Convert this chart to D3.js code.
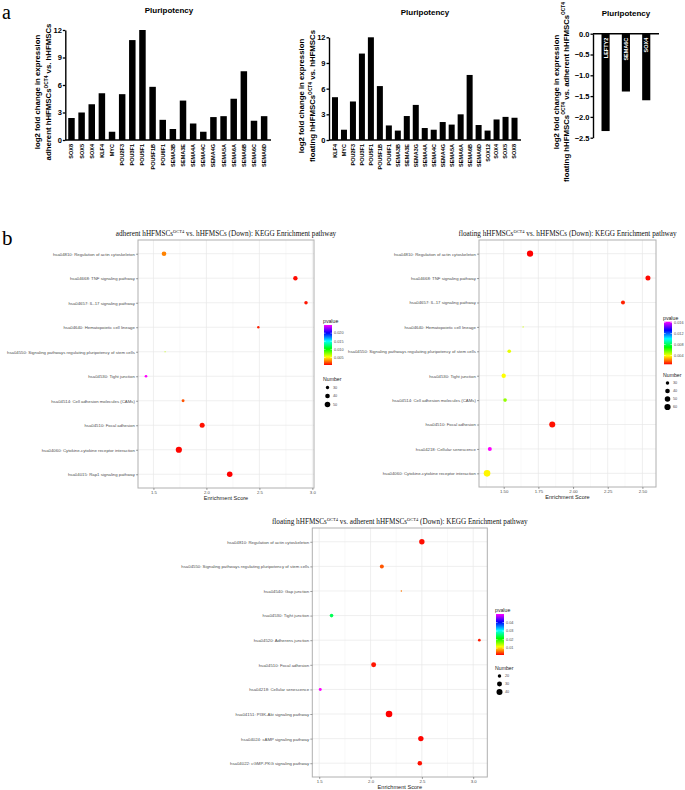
<!DOCTYPE html>
<html>
<head>
<meta charset="utf-8">
<script src="https://cdn.jsdelivr.net/npm/d3@7"></script>
<style>
  body { margin: 0; background: #fff; }
  svg { display: block; font-family: "Liberation Sans", Arial, sans-serif; }
</style>
</head>
<body>
<svg id="fig" width="685" height="790"></svg>
<script>
// ---- panel a: log2 fold change bars ----
const adhGenes = ["SOX8", "SOX5", "SOX4", "KLF4", "MYC", "POU2F3", "POU3F1", "POU5F1", "POU5F1B", "POU6F1",
    "SEMA3B", "SEMA3E", "SEMA4A", "SEMA4C", "SEMA4G", "SEMA5A", "SEMA6A", "SEMA6B", "SEMA6C", "SEMA6D"];
const adhFold = [2.4, 3.0, 3.9, 5.1, 0.9, 5.0, 10.9, 12.0, 5.8, 2.2, 1.2, 4.3, 1.8, 0.9, 2.5, 2.6, 4.5, 7.5, 2.1, 2.6];

const floGenes = ["KLF4", "MYC", "POU2F3", "POU3F1", "POU5F1", "POU5F1B", "POU6F1", "SEMA3B", "SEMA3E", "SEMA3G",
    "SEMA4A", "SEMA4C", "SEMA4G", "SEMA5A", "SEMA6A", "SEMA6B", "SEMA6D", "SOX12", "SOX4", "SOX5", "SOX8"];
const floFold = [5.0, 1.2, 4.5, 10.1, 12.0, 6.3, 1.7, 1.1, 2.8, 4.1, 1.4, 1.2, 2.1, 1.8, 3.0, 7.6, 1.75, 1.1, 2.4, 2.7, 2.6];

const fvaGenes = ["LEFTY2", "SEMA6C", "SOX4"];
const fvaFold = [-2.34, -1.39, -1.6];

const posTicks = [0, 3, 6, 9, 12];
const negTicks = [0, -0.5, -1.0, -1.5, -2.0, -2.5];

// ---- panel b: KEGG enrichment ----
const pathAdh = ["hsa04810: Regulation of actin cytoskeleton", "hsa04668: TNF signaling pathway",
    "hsa04657: IL-17 signaling pathway", "hsa04640: Hematopoietic cell lineage",
    "hsa04550: Signaling pathways regulating pluripotency of stem cells", "hsa04530: Tight junction",
    "hsa04514: Cell adhesion molecules (CAMs)", "hsa04510: Focal adhesion",
    "hsa04060: Cytokine-cytokine receptor interaction", "hsa04015: Rap1 signaling pathway"];
const scoreAdh = [1.60, 2.84, 2.94, 2.49, 1.61, 1.43, 1.78, 1.96, 1.74, 2.22];
const pvalAdh = [0.0029, 0.0006, 0.0008, 0.0010, 0.0066, 0.0250, 0.0020, 0.0007, 0.0005, 0.0004];
const countAdh = [40, 38, 31, 26, 24, 27, 28, 44, 58, 50];

const pathFlo = ["hsa04810: Regulation of actin cytoskeleton", "hsa04668: TNF signaling pathway",
    "hsa04657: IL-17 signaling pathway", "hsa04640: Hematopoietic cell lineage",
    "hsa04550: Signaling pathways regulating pluripotency of stem cells", "hsa04530: Tight junction",
    "hsa04514: Cell adhesion molecules (CAMs)", "hsa04510: Focal adhesion",
    "hsa04218: Cellular senescence", "hsa04060: Cytokine-cytokine receptor interaction"];
const scoreFlo = [1.69, 2.54, 2.36, 1.64, 1.54, 1.50, 1.51, 1.85, 1.40, 1.38];
const pvalFlo = [0.0008, 0.0009, 0.0012, 0.0045, 0.0042, 0.0039, 0.0052, 0.0010, 0.0163, 0.0038];
const countFlo = [60, 44, 34, 22, 31, 37, 31, 57, 34, 66];

const pathFva = ["hsa04810: Regulation of actin cytoskeleton",
    "hsa04550: Signaling pathways regulating pluripotency of stem cells", "hsa04540: Gap junction",
    "hsa04530: Tight junction", "hsa04520: Adherens junction", "hsa04510: Focal adhesion",
    "hsa04218: Cellular senescence", "hsa04151: PI3K-Akt signaling pathway",
    "hsa04024: cAMP signaling pathway", "hsa04022: cGMP-PKG signaling pathway"];
const scoreFva = [2.50, 2.11, 2.30, 1.62, 3.06, 2.03, 1.51, 2.18, 2.49, 2.48];
const pvalFva = [0.0025, 0.0052, 0.0065, 0.0244, 0.0030, 0.0028, 0.0500, 0.0020, 0.0022, 0.0026];
const countFva = [34, 23, 15, 21, 17, 30, 18, 47, 34, 27];

const svg = d3.select("#fig");

// text with "OCT4" style superscripts: parts = [[text, isSup], ...]
function richText(sel, parts, size) {
    let up = false;
    parts.forEach(([s, sup]) => {
        const t = sel.append("tspan").text(s);
        if (sup) {
            t.attr("font-size", size * 0.62);
            if (!up) { t.attr("dy", -size * 0.42); up = true; }
        } else if (up) {
            t.attr("dy", size * 0.42);
            up = false;
        }
    });
}

// panel letters
svg.append("text").attr("x", 2).attr("y", 18.5).attr("font-family", "Liberation Serif, serif")
    .attr("font-size", 20).text("a");
svg.append("text").attr("x", 2).attr("y", 245).attr("font-family", "Liberation Serif, serif")
    .attr("font-size", 21).text("b");

function drawBars(cfg) {
    const g = svg.append("g");
    const x = d3.scaleBand().domain(cfg.genes).range([cfg.x0, cfg.x1])
        .paddingInner(cfg.pad).paddingOuter(cfg.pad / 2);
    const y = d3.scaleLinear().domain(cfg.yDomain).range([cfg.yBottom, cfg.yTop]);

    g.selectAll("rect")
        .data(cfg.values)
        .enter()
        .append("rect")
        .attr("x", (d, i) => x(cfg.genes[i]))
        .attr("y", (d) => y(Math.max(0, d)))
        .attr("width", x.bandwidth())
        .attr("height", (d) => Math.abs(y(d) - y(0)))
        .attr("fill", "#000");

    // y axis
    const ya = g.append("g")
        .attr("transform", `translate(${cfg.axisX},0)`)
        .call(d3.axisLeft(y).tickValues(cfg.yTicks).tickFormat(d3.format(cfg.fmt))
            .tickSize(2.5).tickSizeOuter(0).tickPadding(1));
    ya.select(".domain").attr("stroke-width", 1.4);
    ya.selectAll(".tick line").attr("stroke-width", 1.3);
    ya.selectAll("text").attr("font-size", 7.5).attr("font-weight", "bold")
        .attr("font-family", "Liberation Sans, Arial, sans-serif");

    // x axis line
    g.append("line")
        .attr("x1", cfg.axisX).attr("x2", cfg.axisEnd)
        .attr("y1", y(0)).attr("y2", y(0))
        .attr("stroke", "#000").attr("stroke-width", 1.4);

    // category labels
    g.selectAll(".xl")
        .data(cfg.genes)
        .enter()
        .append("text")
        .attr("class", "xl")
        .attr("transform", (d) => `translate(${x(d) + x.bandwidth() / 2},${y(0) + 4}) rotate(-90)`)
        .attr("dy", "0.35em")
        .attr("text-anchor", "end")
        .attr("font-size", 5.5)
        .attr("font-weight", "bold")
        .attr("fill", cfg.inside ? "#fff" : "#000")
        .text((d) => d);

    g.append("text")
        .attr("x", cfg.titleX).attr("y", cfg.titleY)
        .attr("text-anchor", "middle").attr("font-size", 8).attr("font-weight", "bold")
        .text("Pluripotency");

    cfg.labels.forEach((parts, i) => {
        const t = g.append("text")
            .attr("transform", `translate(${cfg.labelX[i]},${cfg.labelY}) rotate(-90)`)
            .attr("dy", "0.35em")
            .attr("text-anchor", "middle").attr("font-size", 7.8).attr("font-weight", "bold");
        richText(t, parts, 7.8);
    });
}

drawBars({
    genes: adhGenes, values: adhFold, x0: 66.4, x1: 269.2, pad: 0.36,
    axisX: 65.3, axisEnd: 271, yTop: 30, yBottom: 140, yDomain: [0, 12], yTicks: posTicks, fmt: "d",
    titleX: 169, titleY: 12.5, labelX: [37.7, 48.3], labelY: 92,
    labels: [[["log2 fold change in expression", 0]],
        [["adherent hHFMSCs", 0], ["OCT4", 1], [" vs. hHFMSCs", 0]]]
});
drawBars({
    genes: floGenes, values: floFold, x0: 330.5, x1: 519, pad: 0.33,
    axisX: 329, axisEnd: 521, yTop: 37.3, yBottom: 140, yDomain: [0, 12], yTicks: posTicks, fmt: "d",
    titleX: 425, titleY: 14.5, labelX: [301.7, 312.3], labelY: 96,
    labels: [[["log2 fold change in expression", 0]],
        [["floating hHFMSCs", 0], ["OCT4", 1], [" vs. hHFMSCs", 0]]]
});
drawBars({
    genes: fvaGenes, values: fvaFold, x0: 595.4, x1: 656.4, pad: 0.6, inside: true,
    axisX: 593, axisEnd: 659, yTop: 33.7, yBottom: 137.7, yDomain: [-2.5, 0], yTicks: negTicks, fmt: ".1f",
    titleX: 626, titleY: 16, labelX: [556, 566], labelY: 92,
    labels: [[["log2 fold change in expression", 0]],
        [["floating hHFMSCs", 0], ["OCT4", 1], [" vs. adherent hHFMSCs", 0], ["OCT4", 1]]]
});

function drawBubbles(cfg) {
    const g = svg.append("g");
    const ext = d3.extent(cfg.scores);
    const pad = (ext[1] - ext[0]) * 0.05;
    const x = d3.scaleLinear().domain([ext[0] - pad, ext[1] + pad]).range([cfg.left, cfg.right]);
    const y = d3.scalePoint().domain(cfg.paths).range([cfg.top, cfg.bottom]).padding(0.56);

    const pExt = d3.extent(cfg.pvals);
    const hue = d3.scaleLinear().domain(pExt).range([0, 300]);
    const color = (p) => d3.hsl(hue(p), 1, 0.5).toString();

    const cExt = d3.extent(cfg.counts);
    const cNorm = d3.scaleLinear().domain(cExt).range([0, 1]).clamp(true);
    const radius = (c) => cfg.rRange[0] + Math.sqrt(cNorm(c)) * (cfg.rRange[1] - cfg.rRange[0]);

    // grid
    g.selectAll(".minor").data(cfg.minor).enter().append("line")
        .attr("x1", (d) => x(d)).attr("x2", (d) => x(d))
        .attr("y1", cfg.top).attr("y2", cfg.bottom)
        .attr("stroke", "#f2f2f2").attr("stroke-width", 0.5);
    g.selectAll(".vmaj").data(cfg.ticks).enter().append("line")
        .attr("x1", (d) => x(d)).attr("x2", (d) => x(d))
        .attr("y1", cfg.top).attr("y2", cfg.bottom)
        .attr("stroke", "#e8e8e8").attr("stroke-width", 0.7);
    g.selectAll(".hmaj").data(cfg.paths).enter().append("line")
        .attr("x1", cfg.left).attr("x2", cfg.right)
        .attr("y1", (d) => y(d)).attr("y2", (d) => y(d))
        .attr("stroke", "#e8e8e8").attr("stroke-width", 0.7);

    g.append("rect")
        .attr("x", cfg.left).attr("y", cfg.top)
        .attr("width", cfg.right - cfg.left).attr("height", cfg.bottom - cfg.top)
        .attr("fill", "none").attr("stroke", "#b0b0b0").attr("stroke-width", 1);

    // points
    g.selectAll("circle.pt")
        .data(cfg.paths)
        .enter()
        .append("circle")
        .attr("class", "pt")
        .attr("cx", (d, i) => x(cfg.scores[i]))
        .attr("cy", (d) => y(d))
        .attr("r", (d, i) => radius(cfg.counts[i]))
        .attr("fill", (d, i) => color(cfg.pvals[i]));

    // axes
    const ya = g.append("g").attr("transform", `translate(${cfg.left},0)`)
        .call(d3.axisLeft(y).tickSize(2).tickPadding(1.2));
    ya.select(".domain").remove();
    ya.selectAll(".tick line").attr("stroke", "#444").attr("stroke-width", 0.5);
    ya.selectAll("text").attr("font-size", 4.3).attr("fill", "#4d4d4d")
        .attr("font-family", "Liberation Sans, Arial, sans-serif");

    const xa = g.append("g").attr("transform", `translate(0,${cfg.bottom})`)
        .call(d3.axisBottom(x).tickValues(cfg.ticks).tickFormat(d3.format(cfg.fmt)).tickSize(2).tickPadding(1.2));
    xa.select(".domain").remove();
    xa.selectAll(".tick line").attr("stroke", "#444").attr("stroke-width", 0.5);
    xa.selectAll("text").attr("font-size", 4.3).attr("fill", "#4d4d4d")
        .attr("font-family", "Liberation Sans, Arial, sans-serif");

    g.append("text")
        .attr("x", (cfg.left + cfg.right) / 2).attr("y", cfg.bottom + 12)
        .attr("text-anchor", "middle").attr("font-size", 5.6).attr("fill", "#222")
        .text("Enrichment Score");

    const tt = g.append("text")
        .attr("x", (cfg.left + cfg.right) / 2).attr("y", cfg.top - 4)
        .attr("text-anchor", "middle").attr("font-size", 7.2)
        .attr("font-family", "Liberation Serif, 'Times New Roman', serif").attr("fill", "#111");
    richText(tt, cfg.title, 7.2);

    // colour legend
    const L = cfg.legend;
    g.append("text").attr("x", L.x).attr("y", L.barTop - 2)
        .attr("font-size", 5.2).attr("fill", "#222").text("pvalue");
    const gid = "grad" + cfg.id;
    const grad = svg.append("defs").append("linearGradient").attr("id", gid)
        .attr("x1", 0).attr("y1", 1).attr("x2", 0).attr("y2", 0);
    d3.range(0, 1.0001, 0.05).forEach((t) => {
        grad.append("stop").attr("offset", t)
            .attr("stop-color", color(pExt[0] + t * (pExt[1] - pExt[0])));
    });
    g.append("rect").attr("x", L.x + 1).attr("y", L.barTop)
        .attr("width", 8).attr("height", L.barBottom - L.barTop).attr("fill", `url(#${gid})`);
    const pY = d3.scaleLinear().domain(pExt).range([L.barBottom, L.barTop]);
    cfg.pTicks.forEach((t) => {
        g.append("line").attr("x1", L.x + 1).attr("x2", L.x + 2.6)
            .attr("y1", pY(t)).attr("y2", pY(t)).attr("stroke", "#fff").attr("stroke-width", 0.5);
        g.append("line").attr("x1", L.x + 7.4).attr("x2", L.x + 9)
            .attr("y1", pY(t)).attr("y2", pY(t)).attr("stroke", "#fff").attr("stroke-width", 0.5);
        g.append("text").attr("x", L.x + 11).attr("y", pY(t)).attr("dy", "0.35em")
            .attr("font-size", 3.8).attr("fill", "#4d4d4d").text(d3.format(cfg.pFmt)(t));
    });

    // size legend
    g.append("text").attr("x", L.x).attr("y", L.numY)
        .attr("font-size", 5.2).attr("fill", "#222").text("Number");
    cfg.sizeBreaks.forEach((b, i) => {
        const cy = L.numY + 6.5 + i * L.step;
        g.append("circle").attr("cx", L.x + 4.5).attr("cy", cy).attr("r", radius(b)).attr("fill", "#000");
        g.append("text").attr("x", L.x + 10).attr("y", cy).attr("dy", "0.35em")
            .attr("font-size", 3.8).attr("fill", "#4d4d4d").text(b);
    });
}

drawBubbles({
    id: 1, paths: pathAdh, scores: scoreAdh, pvals: pvalAdh, counts: countAdh,
    left: 138, right: 314, top: 240, bottom: 488,
    ticks: [1.5, 2.0, 2.5, 3.0], minor: [1.75, 2.25, 2.75], fmt: ".1f", rRange: [0.6, 3.1],
    pTicks: [0.005, 0.010, 0.015, 0.020], pFmt: ".3f", sizeBreaks: [30, 40, 50],
    legend: { x: 323, barTop: 325, barBottom: 365, numY: 381, step: 8.5 },
    title: [["adherent hHFMSCs", 0], ["OCT4", 1], [" vs. hHFMSCs (Down): KEGG Enrichment pathway", 0]]
});
drawBubbles({
    id: 2, paths: pathFlo, scores: scoreFlo, pvals: pvalFlo, counts: countFlo,
    left: 479, right: 656, top: 240, bottom: 487,
    ticks: [1.5, 1.75, 2.0, 2.25, 2.5], minor: [1.375, 1.625, 1.875, 2.125, 2.375], fmt: ".2f", rRange: [0.6, 3.3],
    pTicks: [0.004, 0.008, 0.012, 0.016], pFmt: ".3f", sizeBreaks: [30, 40, 50, 60],
    legend: { x: 663, barTop: 321.7, barBottom: 364.3, numY: 376.5, step: 8 },
    title: [["floating hHFMSCs", 0], ["OCT4", 1], [" vs. hHFMSCs (Down): KEGG Enrichment pathway", 0]]
});
drawBubbles({
    id: 3, paths: pathFva, scores: scoreFva, pvals: pvalFva, counts: countFva,
    left: 312.3, right: 487.3, top: 528, bottom: 777,
    ticks: [1.5, 2.0, 2.5, 3.0], minor: [1.75, 2.25, 2.75], fmt: ".1f", rRange: [0.7, 3.3],
    pTicks: [0.01, 0.02, 0.03, 0.04], pFmt: ".2f", sizeBreaks: [20, 30, 40],
    legend: { x: 495, barTop: 614, barBottom: 655, numY: 669.5, step: 8 },
    title: [["floating hHFMSCs", 0], ["OCT4", 1], [" vs. adherent hHFMSCs", 0], ["OCT4", 1],
        [" (Down): KEGG Enrichment pathway", 0]]
});
</script>
</body>
</html>
